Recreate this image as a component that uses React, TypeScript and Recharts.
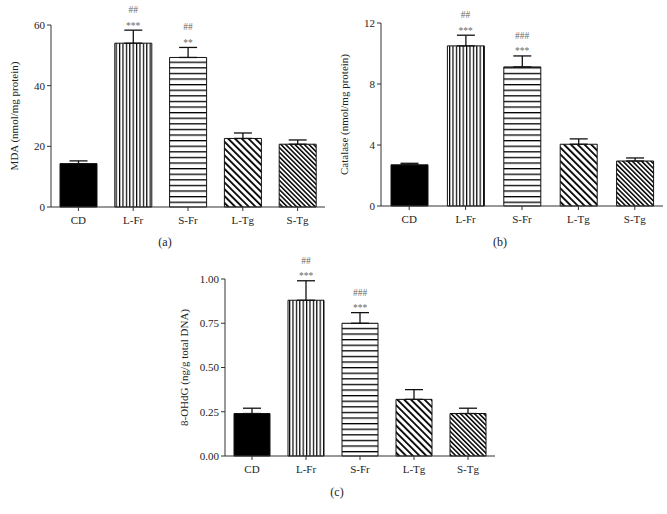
import {
  Bar,
  Cell,
  ComposedChart,
  ErrorBar,
  Scatter,
  XAxis,
  YAxis,
} from "recharts";

const groups = ["CD", "L-Fr", "S-Fr", "L-Tg", "S-Tg"];

// (a) MDA
const mdaMean = [14.3, 54.0, 49.3, 22.6, 20.7];
const mdaSem = [0.9, 4.3, 3.3, 1.8, 1.4];
const mdaStars = ["", "***", "**", "", ""];
const mdaHash = ["", "##", "##", "", ""];
const mdaTicks = [0, 20, 40, 60];

// (b) catalase
const catMean = [2.7, 10.5, 9.12, 4.05, 2.95];
const catSem = [0.1, 0.7, 0.72, 0.35, 0.2];
const catStars = ["", "***", "***", "", ""];
const catHash = ["", "##", "###", "", ""];
const catTicks = [0, 4, 8, 12];

// (c) 8-OHdG
const ohdgMean = [0.24, 0.88, 0.75, 0.32, 0.24];
const ohdgSem = [0.03, 0.11, 0.06, 0.055, 0.03];
const ohdgStars = ["", "***", "***", "", ""];
const ohdgHash = ["", "##", "###", "", ""];
const ohdgTicks = [0, 0.25, 0.5, 0.75, 1.0];

const font = '"Liberation Serif", "Times New Roman", serif';
const ink = "#222";

const fills = ["#000", "vert", "horiz", "diagWide", "diagNarrow"];

function Patterns({ id }: { id: string }) {
  return (
    <defs>
      <pattern id={`${id}-vert`} patternUnits="userSpaceOnUse" width={3.4} height={10}>
        <rect width={3.4} height={10} fill="#fff" />
        <rect x={0} width={1.2} height={10} fill="#000" />
      </pattern>
      <pattern id={`${id}-horiz`} patternUnits="userSpaceOnUse" width={10} height={5.6}>
        <rect width={10} height={5.6} fill="#fff" />
        <rect y={0} width={10} height={1.3} fill="#000" />
      </pattern>
      <pattern
        id={`${id}-diagWide`}
        patternUnits="userSpaceOnUse"
        width={4.8}
        height={10}
        patternTransform="rotate(-45)"
      >
        <rect width={4.8} height={10} fill="#fff" />
        <rect x={0} width={1.8} height={10} fill="#000" />
      </pattern>
      <pattern
        id={`${id}-diagNarrow`}
        patternUnits="userSpaceOnUse"
        width={3.3}
        height={10}
        patternTransform="rotate(-45)"
      >
        <rect width={3.3} height={10} fill="#fff" />
        <rect x={0} width={1.5} height={10} fill="#000" />
      </pattern>
    </defs>
  );
}

const Marks = (props: any) => {
  const { cx, cy, payload } = props;
  if (!payload || !payload.stars || !isFinite(cy)) return <g />;
  return (
    <g fill="#6a6a6a" fontSize={9.5} fontFamily={font} textAnchor="middle">
      <text x={cx} y={cy - 17}>
        {payload.hash}
      </text>
      <text x={cx} y={cy - 1.5}>
        {payload.stars}
      </text>
    </g>
  );
};

type PanelProps = {
  id: string;
  means: number[];
  sems: number[];
  stars: string[];
  hashes: string[];
  ticks: number[];
  yLabel: string;
  width: number;
  height: number;
  margin: { top: number; right: number; bottom: number; left: number };
  yWidth: number;
  barSize: number;
  decimals: number;
};

function Panel(p: PanelProps) {
  const data = groups.map((name, i) => ({
    name,
    value: p.means[i],
    err: [0, p.sems[i]],
    top: p.stars[i] ? p.means[i] + p.sems[i] : null,
    stars: p.stars[i],
    hash: p.hashes[i],
  }));
  const tickStyle = { fill: ink, fontSize: 11, fontFamily: font };
  return (
    <ComposedChart width={p.width} height={p.height} data={data} margin={p.margin}>
      <Patterns id={p.id} />
      <XAxis
        dataKey="name"
        interval={0}
        tick={tickStyle}
        tickSize={4}
        tickMargin={5}
        stroke="#333"
        height={20}
      />
      <YAxis
        domain={[0, p.ticks[p.ticks.length - 1]]}
        ticks={p.ticks}
        tick={tickStyle}
        tickSize={4}
        tickMargin={2}
        stroke="#333"
        width={p.yWidth}
        tickFormatter={(v: number) => v.toFixed(p.decimals)}
        label={{
          value: p.yLabel,
          angle: -90,
          position: "insideLeft",
          offset: 3,
          style: { textAnchor: "middle", fontSize: 11, fill: ink, fontFamily: font },
        }}
      />
      <Bar
        dataKey="value"
        barSize={p.barSize}
        stroke="#111"
        strokeWidth={1}
        isAnimationActive={false}
      >
        {data.map((d, i) => (
          <Cell
            key={d.name}
            fill={i === 0 ? fills[0] : `url(#${p.id}-${fills[i]})`}
          />
        ))}
        <ErrorBar dataKey="err" width={9} stroke="#111" strokeWidth={1.3} />
      </Bar>
      <Scatter dataKey="top" shape={Marks} isAnimationActive={false} />
    </ComposedChart>
  );
}

const caption = (text: string, left: number, top: number) => (
  <div
    style={{
      position: "absolute",
      left: left - 20,
      top,
      width: 40,
      textAlign: "center",
      fontFamily: font,
      fontSize: 12,
      color: ink,
      lineHeight: "14px",
    }}
  >
    {text}
  </div>
);

export default function App() {
  return (
    <div
      style={{
        position: "absolute",
        left: 0,
        top: 0,
        width: 667,
        height: 514,
        background: "#fff",
        overflow: "hidden",
      }}
    >
      <div style={{ position: "absolute", left: 0, top: 0 }}>
        <Panel
          id="a"
          means={mdaMean}
          sems={mdaSem}
          stars={mdaStars}
          hashes={mdaHash}
          ticks={mdaTicks}
          yLabel="MDA (nmol/mg protein)"
          width={330}
          height={250}
          margin={{ top: 25, right: 5, bottom: 23, left: 11 }}
          yWidth={40}
          barSize={37}
          decimals={0}
        />
      </div>
      <div style={{ position: "absolute", left: 330, top: 0 }}>
        <Panel
          id="b"
          means={catMean}
          sems={catSem}
          stars={catStars}
          hashes={catHash}
          ticks={catTicks}
          yLabel="Catalase (nmol/mg protein)"
          width={337}
          height={250}
          margin={{ top: 23, right: 4, bottom: 24, left: 11 }}
          yWidth={40}
          barSize={37}
          decimals={0}
        />
      </div>
      <div style={{ position: "absolute", left: 170, top: 255 }}>
        <Panel
          id="c"
          means={ohdgMean}
          sems={ohdgSem}
          stars={ohdgStars}
          hashes={ohdgHash}
          ticks={ohdgTicks}
          yLabel="8-OHdG (ng/g total DNA)"
          width={330}
          height={259}
          margin={{ top: 24, right: 5, bottom: 38, left: 11 }}
          yWidth={44}
          barSize={36}
          decimals={2}
        />
      </div>
      {caption("(a)", 165, 235)}
      {caption("(b)", 500, 235)}
      {caption("(c)", 337, 485)}
    </div>
  );
}
